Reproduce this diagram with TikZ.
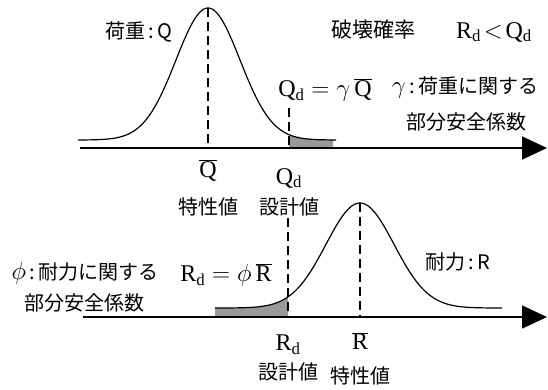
\documentclass[tikz,border=0pt]{standalone}
\usepackage{fontspec}
\setmainfont{Liberation Serif}
\newfontfamily\jp{Noto Sans CJK JP}
\usetikzlibrary{arrows.meta}
\newcommand\bigsym[1]{{\fontsize{25}{28}\selectfont$#1$}}
\tikzset{jptext/.style={font=\jp\fontsize{20}{23}\selectfont,inner sep=0pt},mtext/.style={font=\fontsize{24}{28}\selectfont,inner sep=0pt},axis/.style={line width=1.6pt,-{Triangle[length=25pt,width=23pt]}},curve/.style={line width=1.2pt},guide/.style={line width=1.2pt,dash pattern=on 9pt off 5pt},tail/.style={fill=black!40}}

\begin{document}
\begin{tikzpicture}[x=1pt,y=-1pt]
\useasboundingbox (0,0) rectangle (548,389);
% load Q
\coordinate (qa0) at (80,148);
\coordinate (qa1) at (547,148);
\coordinate (qpk) at (208,8);
\coordinate (qpkb) at (208,148);
\coordinate (qdt) at (289,108);
\coordinate (qdb) at (289,148);
\fill[tail] (289,148) -- plot[domain=289:333,samples=30] (\x,{140-132*exp(-((\x-208)/32)^2/2)}) -- (333,148) -- cycle;
\draw[curve] plot[domain=78:336,samples=120] (\x,{140-132*exp(-((\x-208)/32)^2/2)});
\draw[guide] (qpk) -- (qpkb);
\draw[guide] (qdt) -- (qdb);
\draw[axis] (qa0) -- (qa1);
% resistance R
\coordinate (ra0) at (83,317);
\coordinate (ra1) at (547,317);
\coordinate (rpk) at (360,203);
\coordinate (rpkb) at (360,317);
\coordinate (rdt) at (288,218);
\coordinate (rdb) at (288,317);
\fill[tail] (215,317) -- plot[domain=215:288,samples=30] (\x,{308-105*exp(-((\x-360)/34)^2/2)}) -- (288,317) -- cycle;
\draw[curve] plot[domain=215:502,samples=120] (\x,{308-105*exp(-((\x-360)/34)^2/2)});
\draw[guide] (rpk) -- (rpkb);
\draw[guide] (rdt) -- (rdb);
\draw[axis] (ra0) -- (ra1);
% labels
\node[jptext] (load) at (139,32) {荷重\,:\,Q};
\node[jptext,font=\jp\fontsize{21}{24}\selectfont] (pf) at (373,30) {破壊確率};
\node[mtext] (cond) at (494,32) {$\mathrm{R}_\mathrm{d}\!<\!\mathrm{Q}_\mathrm{d}$};
\node[mtext] (qdeq) at (325,90) {$\mathrm{Q}_\mathrm{d}=\gamma\,\overline{\mathrm{Q}}$};
\node[jptext] (gam) at (465,88) {\bigsym{\gamma}\,:\,荷重に関する};
\node[jptext] (gam2) at (466,122) {部分安全係数};
\node[mtext] (qbar) at (208,170) {$\overline{\mathrm{Q}}$};
\node[jptext] (qchar) at (208,207) {特性値};
\node[mtext] (qd) at (289,178) {$\mathrm{Q}_\mathrm{d}$};
\node[jptext] (qdes) at (289,207) {設計値};
\node[jptext] (phi) at (85,273) {\bigsym{\phi}\,:\,耐力に関する};
\node[jptext] (phi2) at (84,303) {部分安全係数};
\node[mtext] (rdeq) at (226,275) {$\mathrm{R}_\mathrm{d}=\phi\,\overline{\mathrm{R}}$};
\node[jptext] (res) at (458,262) {耐力\,:\,R};
\node[mtext] (rd) at (288,345) {$\mathrm{R}_\mathrm{d}$};
\node[jptext] (rdes) at (288,372) {設計値};
\node[mtext] (rbar) at (360,341) {$\overline{\mathrm{R}}$};
\node[jptext] (rchar) at (360,376) {特性値};
\end{tikzpicture}
\end{document}
